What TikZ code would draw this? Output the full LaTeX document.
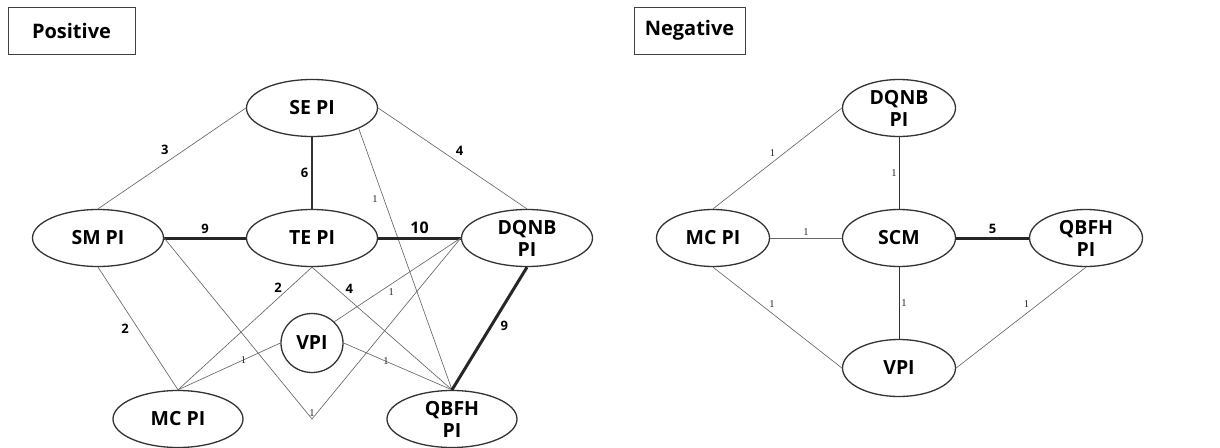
\documentclass[tikz,border=0pt]{standalone}
\usepackage{fontspec}
\setmainfont{Open Sans}
\newfontfamily\onefont{Liberation Serif}
\usetikzlibrary{shapes.geometric,positioning}
\tikzset{
  pinode/.style={ellipse, draw=black!80, line width=1.3pt, minimum width=131pt,
    minimum height=57pt, inner sep=0pt, align=center,
    font=\fontsize{19.5}{22}\selectfont\bfseries},
  npinode/.style={pinode, minimum width=113pt},
  titlebox/.style={draw=black!75, line width=0.8pt, minimum width=127pt,
    minimum height=47pt, font=\fontsize{20}{22}\selectfont\bfseries},
  weak/.style={draw=black!60, line width=0.65pt},
  medium/.style={draw=black!80, line width=1.4pt},
  strong/.style={draw=black!85, line width=3pt},
  wt/.style={font=\fontsize{13}{14}\selectfont\bfseries, inner sep=3pt},
  wtbig/.style={font=\fontsize{16}{17}\selectfont\bfseries, inner sep=3pt},
  wone/.style={font=\onefont\fontsize{10.5}{11}\selectfont, text=black!85, inner sep=2pt}
}
\begin{document}
\begin{tikzpicture}[x=1pt,y=-1pt]
    \useasboundingbox (0,0) rectangle (1220,447);

    % Titles.
    \node[titlebox] (postitle) at (71.5,30.5) {Positive};
    \node[titlebox, minimum width=111pt] (negtitle) at (689.5,30.5) {Negative};

    % Positive network.
    \node[pinode] (se) at (312,108) {SE PI};
    \node[pinode] (sm) at (98,238) {SM PI};
    \node[pinode] (te) at (312,238) {TE PI};
    \node[pinode] (dqnb) at (527,238) {DQNB\\PI};
    \node[pinode, minimum width=62pt, minimum height=59pt] (vpi) at (312,343) {VPI};
    \node[pinode, minimum width=130pt] (mc) at (178,419) {MC PI};
    \node[pinode, minimum width=130pt] (qbfh) at (452,419) {QBFH\\PI};
    \coordinate (vbend) at (312,419);

    \draw[weak] (se.west) -- node[wt, above left] {3} (sm.north);
    \draw[medium] (se.south) -- node[wt, left] {6} (te.north);
    \draw[weak] (se.east) -- node[wt, above right] {4} (dqnb.north);
    \draw[weak] (se.south east) -- node[wone, pos=0.27, left=4pt] {1} (qbfh.north);
    \draw[strong] (sm.east) -- node[wt, above] {9} (te.west);
    \draw[strong] (te.east) -- node[wtbig, above] {10} (dqnb.west);
    \draw[weak] (sm.south) -- node[wt, left=6pt] {2} (mc.north);
    \draw[weak] (sm.east) -- (vbend) node[wone, above] {1} -- (dqnb.west);
    \draw[weak] (te.south) -- node[wt, pos=0.17, left=4pt] {2} (mc.north);
    \draw[weak] (te.south) -- node[wt, pos=0.18, right=5pt] {4} (qbfh.north);
    \draw[weak] (dqnb.west) -- node[wone, pos=0.55, below=2pt] {1} (vpi.north east);
    \draw[weak] (mc.north) -- node[wone, pos=0.64] {1} (vpi.west);
    \draw[weak] (vpi.east) -- node[wone, pos=0.39] {1} (qbfh.north);
    \draw[strong] (dqnb.south) -- node[wt, pos=0.48, right=5pt] {9} (qbfh.north);

    % Negative network.
    \node[npinode] (ndqnb) at (899,108) {DQNB\\PI};
    \node[npinode] (nmc) at (713,238) {MC PI};
    \node[npinode] (nscm) at (899,238) {SCM};
    \node[npinode] (nqbfh) at (1086,238) {QBFH\\PI};
    \node[npinode] (nvpi) at (899,368) {VPI};

    \draw[weak] (ndqnb.west) -- node[wone, above left] {1} (nmc.north);
    \draw[medium, line width=0.8pt] (ndqnb.south) -- node[wone, left] {1} (nscm.north);
    \draw[weak] (nmc.east) -- node[wone, above] {1} (nscm.west);
    \draw[strong] (nscm.east) -- node[wt, above] {5} (nqbfh.west);
    \draw[weak] (nmc.south) -- node[wone, pos=0.42, above right] {1} (nvpi.west);
    \draw[medium, line width=0.8pt] (nscm.south) -- node[wone, right] {1} (nvpi.north);
    \draw[weak] (nqbfh.south) -- node[wone, pos=0.42, above left] {1} (nvpi.east);
\end{tikzpicture}
\end{document}
